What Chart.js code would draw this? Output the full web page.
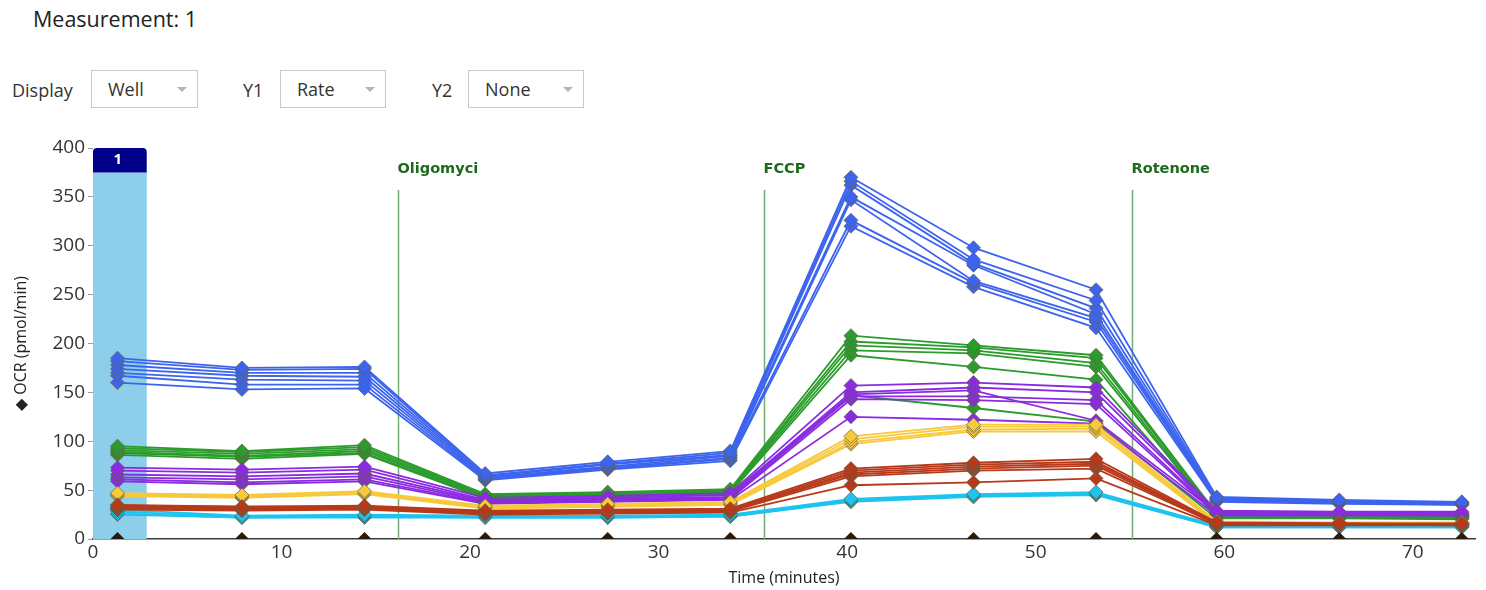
<!DOCTYPE html>
<html>
<head>
<meta charset="utf-8">
<script src="https://cdn.jsdelivr.net/npm/chart.js@4/dist/chart.umd.min.js"></script>
<style>
  html, body { margin: 0; padding: 0; background: #fff; }
  body { width: 1486px; height: 590px; position: relative; overflow: hidden;
         font-family: "Open Sans", "Noto Sans", sans-serif; color: #222; }
  .lbl { position: absolute; font-size: 18px; line-height: 22px; color: #333; }
  .box { position: absolute; top: 70px; height: 36px; border: 1px solid #c9c9c9; background: #fff; }
  .box span { position: absolute; left: 16px; top: 7px; font-size: 18px; line-height: 22px; color: #333; }
  .box i { position: absolute; right: 10px; top: 16px; width: 0; height: 0;
           border-left: 5px solid transparent; border-right: 5px solid transparent; border-top: 5px solid #b4b4b4; }
  #wrap { position: absolute; left: 0; top: 130px; width: 1486px; height: 460px; }
</style>
</head>
<body>
<div class="lbl" style="left:33px;top:7px;font-size:21.5px;line-height:24px;color:#222">Measurement: 1</div>

<div class="lbl" style="left:12px;top:79px">Display</div>
<div class="box" style="left:91px;width:105px"><span>Well</span><i></i></div>
<div class="lbl" style="left:243px;top:79px">Y1</div>
<div class="box" style="left:280px;width:104px"><span>Rate</span><i></i></div>
<div class="lbl" style="left:432px;top:79px">Y2</div>
<div class="box" style="left:468px;width:114px"><span>None</span><i></i></div>

<div id="wrap"><canvas id="ocr_chart" width="1486" height="460"></canvas></div>

<script>
// measurement times (minutes)
const times = [1.3, 7.9, 14.4, 20.8, 27.3, 33.8, 40.2, 46.7, 53.2, 59.6, 66.1, 72.6];

// OCR per well (pmol/min), grouped by colour
const blueWells = [
  [185, 175, 176, 67, 79, 90, 370, 298, 255, 43, 40, 38],
  [182, 173, 174, 65, 77, 88, 366, 286, 244, 42, 39, 37],
  [178, 170, 170, 64, 76, 86, 362, 282, 236, 41, 39, 37],
  [174, 167, 166, 63, 74, 85, 350, 280, 230, 40, 38, 36],
  [170, 163, 162, 62, 73, 83, 347, 264, 226, 40, 37, 36],
  [167, 158, 158, 61, 72, 82, 326, 262, 222, 39, 37, 35],
  [160, 153, 154, 60, 71, 80, 320, 258, 216, 38, 36, 35],
];
const greenWells = [
  [95, 90, 96, 46, 48, 51, 208, 198, 188, 26, 24, 24],
  [93, 89, 94, 45, 47, 50, 202, 196, 185, 25, 24, 23],
  [91, 87, 92, 44, 46, 49, 198, 193, 180, 24, 23, 23],
  [89, 85, 90, 43, 45, 48, 193, 190, 176, 23, 22, 22],
  [88, 84, 88, 42, 44, 47, 188, 176, 163, 22, 22, 21],
  [86, 82, 87, 41, 43, 46, 147, 134, 120, 21, 21, 20],
];
const purpleWells = [
  [73, 71, 74, 42, 44, 47, 157, 160, 155, 29, 28, 28],
  [70, 68, 71, 40, 42, 45, 150, 155, 150, 28, 27, 27],
  [66, 64, 67, 39, 41, 43, 148, 152, 121, 27, 26, 26],
  [63, 61, 64, 38, 40, 42, 146, 146, 142, 26, 26, 25],
  [61, 58, 61, 37, 39, 41, 143, 142, 138, 25, 25, 25],
  [59, 56, 59, 36, 38, 40, 125, 122, 118, 24, 24, 24],
];
const yellowWells = [
  [47, 45, 49, 34, 36, 38, 105, 117, 117, 18, 17, 17],
  [46, 44, 48, 33, 35, 37, 102, 115, 115, 17, 16, 16],
  [45, 43, 47, 32, 34, 36, 99, 112, 113, 16, 16, 16],
  [44, 42, 46, 31, 33, 35, 97, 110, 110, 15, 15, 15],
];
const redWells = [
  [35, 33, 34, 29, 30, 31, 72, 78, 82, 17, 16, 16],
  [34, 33, 33, 28, 29, 30, 70, 76, 79, 16, 16, 15],
  [33, 32, 33, 27, 28, 29, 68, 74, 77, 16, 15, 15],
  [32, 31, 32, 27, 28, 29, 66, 72, 75, 15, 15, 15],
  [31, 30, 31, 26, 27, 28, 64, 70, 72, 15, 15, 14],
  [30, 29, 30, 25, 26, 27, 55, 58, 62, 14, 14, 14],
];
const cyanWells = [
  [30, 24, 25, 24, 24, 25, 41, 46, 48, 14, 13, 13],
  [28, 23, 24, 23, 23, 24, 40, 45, 47, 13, 13, 13],
  [26, 22, 23, 22, 22, 23, 39, 44, 46, 12, 12, 12],
  [25, 22, 22, 22, 22, 23, 38, 43, 45, 12, 12, 12],
];
const backgroundWell = [0, 0, 0, 0, 0, 0, 0, 0, 0, 0, 0, 0];

// injections
const injectionNames = ["Oligomyci", "FCCP", "Rotenone"];
const injectionTimes = [16.2, 35.6, 55.1];

// selected measurement band
const measurementLabel = "1";
const measurementRange = [0, 2.85];

const groups = [
  { wells: redWells,    color: "#b8391a" },
  { wells: yellowWells, color: "#f8c93c" },
  { wells: purpleWells, color: "#8a2be2" },
  { wells: greenWells,  color: "#2b9c2b" },
  { wells: blueWells,   color: "#3d64ee" },
  { wells: cyanWells,   color: "#1cc4ee" },
];

const toPoints = (vals) => vals.map((v, i) => ({ x: times[i], y: v }));

const datasets = [{
  data: toPoints(backgroundWell),
  borderColor: "#2a1a0c", backgroundColor: "#2a1a0c",
  pointStyle: "rectRot", pointRadius: 7, pointBorderWidth: 0,
  showLine: false, clip: 0,
}];
groups.forEach((g) => {
  g.wells.forEach((w) => {
    datasets.push({
      data: toPoints(w),
      borderColor: g.color,
      backgroundColor: g.color,
      borderWidth: 1.8,
      pointStyle: "rectRot",
      pointRadius: 7,
      pointBorderWidth: 1,
      pointBorderColor: "rgba(95,95,70,0.7)",
      pointBackgroundColor: g.color,
      tension: 0,
    });
  });
});

const overlayPlugin = {
  id: "overlay",
  beforeDatasetsDraw(chart) {
    const { ctx, scales: { x, y } } = chart;
    const x0 = x.getPixelForValue(measurementRange[0]);
    const x1 = x.getPixelForValue(measurementRange[1]);
    const yTop = y.getPixelForValue(400);
    const yHead = y.getPixelForValue(375);
    const yBot = y.getPixelForValue(0);
    ctx.save();
    ctx.fillStyle = "#8dcfea";
    ctx.fillRect(x0, yHead, x1 - x0, yBot - yHead);
    ctx.fillStyle = "#00008b";
    ctx.beginPath();
    ctx.roundRect(x0, yTop, x1 - x0, yHead - yTop, [4, 4, 0, 0]);
    ctx.fill();
    ctx.fillStyle = "#fff";
    ctx.font = "bold 15px 'Open Sans', sans-serif";
    ctx.textAlign = "center";
    ctx.textBaseline = "middle";
    ctx.fillText(measurementLabel, (x0 + x1) / 2 - 2, (yTop + yHead) / 2);

    injectionTimes.forEach((t, i) => {
      const px = Math.round(x.getPixelForValue(t)) + 0.5;
      ctx.strokeStyle = "#74ad74";
      ctx.lineWidth = 1.5;
      ctx.beginPath();
      ctx.moveTo(px, y.getPixelForValue(357));
      ctx.lineTo(px, yBot);
      ctx.stroke();
      ctx.fillStyle = "#1d6a1d";
      ctx.font = "bold 14.5px 'DejaVu Sans', sans-serif";
      ctx.textAlign = "left";
      ctx.textBaseline = "middle";
      ctx.fillText(injectionNames[i], px - 1, y.getPixelForValue(378));
    });
    ctx.restore();
  },
};

new Chart(document.getElementById("ocr_chart"), {
  type: "line",
  data: { datasets },
  options: {
    responsive: false,
    animation: false,
    layout: { padding: { top: 18, right: 11, left: 0, bottom: 0 } },
    plugins: { legend: { display: false }, tooltip: { enabled: false } },
    scales: {
      x: {
        type: "linear",
        min: 0, max: 73.3,
        grid: { display: false, drawTicks: false },
        border: { display: true, color: "#3a3a3a", width: 1.5 },
        ticks: { stepSize: 10, includeBounds: false, padding: 2, color: "#333",
                 font: { size: 19, family: "'Open Sans', sans-serif" } },
        title: { display: true, text: "Time (minutes)", color: "#222",
                 padding: { top: 0, bottom: 2 }, font: { size: 16, family: "'Open Sans', sans-serif" } },
        afterFit: (s) => { s.height = 51; },
      },
      y: {
        min: 0, max: 400,
        grid: { display: true, drawOnChartArea: false, drawTicks: true, tickLength: 5, color: "#9a9a9a" },
        border: { display: false },
        ticks: { stepSize: 50, padding: 3, color: "#333",
                 font: { size: 19, family: "'Open Sans', sans-serif" } },
        title: { display: true, text: "◆ OCR (pmol/min)", color: "#222",
                 padding: { top: 12, bottom: 4 }, font: { size: 16, family: "'Open Sans', sans-serif" } },
        afterFit: (s) => { s.width = 93; },
      },
    },
  },
  plugins: [overlayPlugin],
});
</script>
</body>
</html>
